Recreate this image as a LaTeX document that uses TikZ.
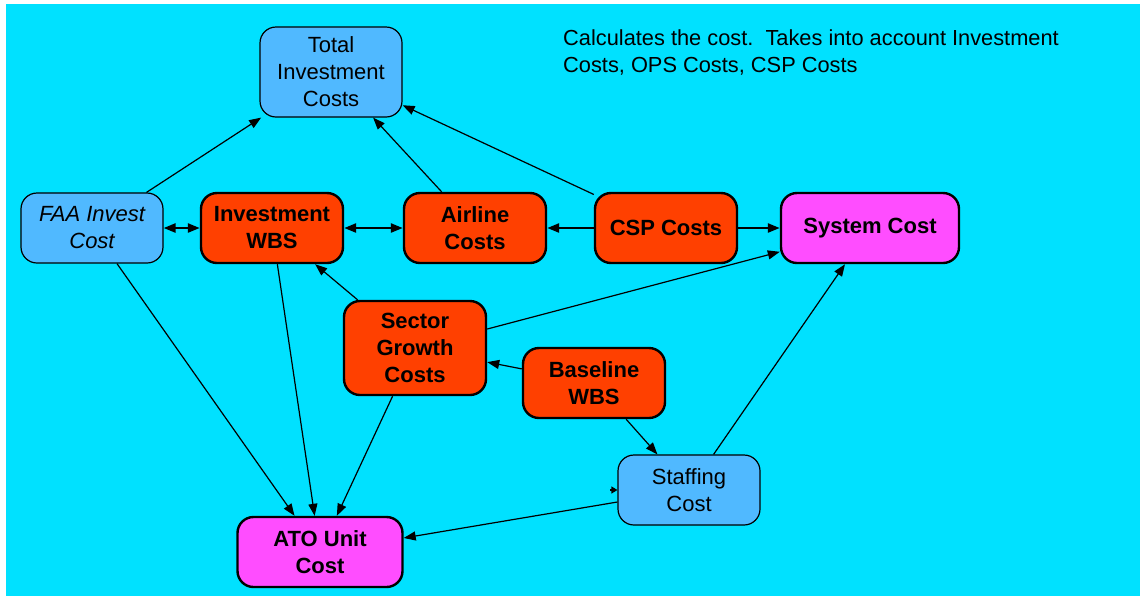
\documentclass[tikz,border=0pt]{standalone}
\usepackage{fontspec}
\setmainfont{Liberation Sans}
\usetikzlibrary{arrows.meta}
\definecolor{bgcyan}{RGB}{0,225,255}
\definecolor{lblue}{RGB}{80,185,255}
\definecolor{ored}{RGB}{255,64,0}
\definecolor{magbox}{RGB}{255,77,255}
\begin{document}
\begin{tikzpicture}[x=1pt,y=-1pt]
        \tikzstyle{proc} = [rectangle, rounded corners=16pt, minimum width=142pt, minimum height=70pt, text centered, align=center, draw=black, font=\fontsize{22}{27}\selectfont]
        \tikzstyle{procb} = [proc, fill=lblue, line width=1.2pt]
        \tikzstyle{procr} = [proc, fill=ored, line width=2.4pt, font=\fontsize{22}{27}\selectfont\bfseries]
        \tikzstyle{procm} = [procr, fill=magbox]
        \tikzstyle{arrow} = [line width=1.2pt, -{Triangle[length=12pt,width=9pt]}]
        \tikzstyle{arrowt} = [line width=2.4pt, -{Triangle[length=12pt,width=9pt]}]
        \useasboundingbox (0,0) rectangle (1140,598);
        \fill[bgcyan] (6,4) rectangle (1140,596);
        \node (a) [procb, minimum height=90pt] at (331, 72) {Total\\Investment\\Costs};
        \node (b) [procb, font=\fontsize{22}{27}\selectfont\itshape] at (92, 228) {FAA Invest\\Cost};
        \node (c) [procr] at (272, 228) {Investment\\WBS};
        \node (d) [procr] at (475, 228) {Airline\\Costs};
        \node (e) [procr] at (666, 228) {CSP Costs};
        \node (f) [procm, minimum width=178pt] at (870, 228) {System Cost};
        \node (g) [procr, minimum height=94pt] at (415, 348) {Sector\\Growth\\Costs};
        \node (h) [procr] at (594, 383) {Baseline\\WBS};
        \node (i) [procb] at (689, 490) {Staffing\\Cost};
        \node (j) [procm, minimum width=165pt] at (320, 552) {ATO Unit\\Cost};
        \node (k) [anchor=north west, align=left, inner sep=0pt, font=\fontsize{21.8}{27}\selectfont] at (563, 29) {Calculates the cost.\ \ Takes into account Investment\\Costs, OPS Costs, CSP Costs};
        \coordinate (i0) at (610, 490);
        \draw[arrow] (b) to (a);
        \draw[arrow] (d) to (a);
        \draw[arrow] (e) to (a);
        \draw[arrowt, {Triangle[length=12pt,width=9pt]}-{Triangle[length=12pt,width=9pt]}] (b) to (c);
        \draw[arrowt, {Triangle[length=12pt,width=9pt]}-{Triangle[length=12pt,width=9pt]}] (c) to (d);
        \draw[arrowt] (e) to (d);
        \draw[arrowt] (e) to (f);
        \draw[arrow] (g) to (c);
        \draw[arrow] (g) to (f);
        \draw[arrow] (h) to (g);
        \draw[arrow] (h) to (i);
        \draw[arrow] (i) to (f);
        \draw[arrow] (b) to (j);
        \draw[arrow] (c) to (j);
        \draw[arrow] (g) to (j);
        \draw[arrow] (i) to (j);
        \draw[line width=1.2pt, -{Triangle[length=6pt,width=7pt]}] (i0) to (i.west);
    \end{tikzpicture}
\end{document}
